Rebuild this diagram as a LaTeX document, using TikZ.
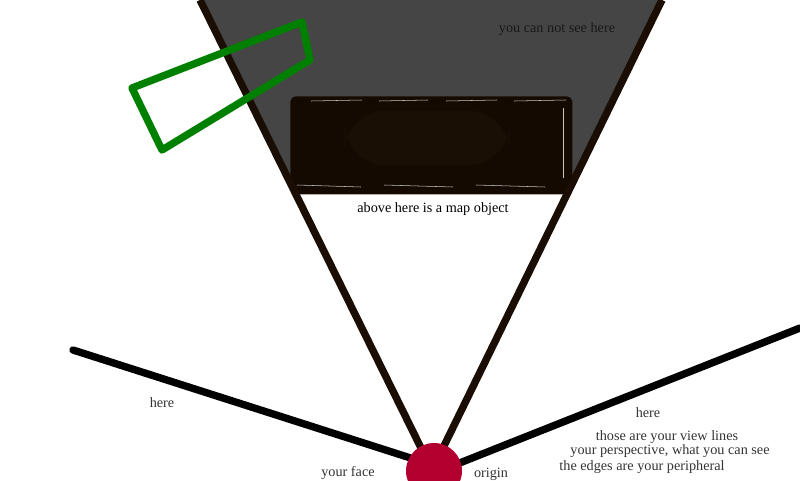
\documentclass[tikz,border=0pt]{standalone}
\usepackage{fontspec}
\setmainfont{Liberation Serif}
\definecolor{viewbrown}{HTML}{1A0D03}
\definecolor{mapdark}{HTML}{150A02}
\definecolor{mapblob}{HTML}{190F04}
\definecolor{blindgray}{HTML}{454545}
\definecolor{origred}{HTML}{B10030}
\definecolor{boxgreen}{HTML}{008000}
\definecolor{labelgray}{HTML}{333333}
\newcommand\lw{4.2pt}

\begin{document}
\begin{tikzpicture}[x=0.02cm,y=-0.02cm,
		viewline/.style={draw=viewbrown,line width=\lw},
		edgeline/.style={draw=black,line width=\lw,line cap=round},
		mylabel/.style={text=labelgray,inner sep=0pt,font=\fontsize{8.1}{9.4}\selectfont},
		seam/.style={draw=gray!45,line width=.3pt}]
		\useasboundingbox (0,0) rectangle (800,480);
		% the parts of the picture
		\coordinate (vlTop) at (200,0);
		\coordinate (vrTop) at (662,0);
		\coordinate (vlMap) at (291,185);
		\coordinate (vrMap) at (571,185);
		\coordinate (vlEnd) at (425,456);
		\coordinate (vrEnd) at (441,452);
		\coordinate (elEnd) at (73,350);
		\coordinate (erEnd) at (800,328);
		\coordinate (elIn) at (420,461);
		\coordinate (erIn) at (452,466);
		% blind area
		\fill[blindgray] (vlTop) -- (vrTop) -- (vrMap) -- (vlMap) -- cycle;
		% map object
		\node(map)[fill=mapdark,rounded corners=3pt,minimum width=5.64cm,minimum height=1.96cm,
			inner sep=0pt,anchor=north west] at (290,96) {};
		\node(blob)[fill=mapblob,rounded corners=24pt,minimum width=3.3cm,minimum height=1.1cm,
			inner sep=0pt] at (427,138) {};
		\foreach \xa/\xb in {311/362,379/428,446/497,514/566}
			\draw[seam] (\xa,101) -- (\xb,100);
		\foreach \xa/\xb in {297/361,384/453,476/545}
			\draw[seam] (\xa,185) -- (\xb,187);
		\draw[seam] (563,108) -- (563,178);
		% view lines and edges
		\draw[viewline] (vlTop) -- (vlEnd);
		\draw[viewline] (vrTop) -- (vrEnd);
		\draw[edgeline] (elEnd) -- (elIn);
		\draw[edgeline] (erEnd) -- (erIn);
		% green box
		\draw[boxgreen,line width=\lw,line join=round] (132,88) -- (302,22) -- (310,60) -- (162,150) -- cycle;
		% origin
		\node(orig)[circle,fill=origred,minimum size=1.12cm,inner sep=0pt] at (434,471) {};
		% texts
		\node(blind)[mylabel,text=black!90] at (557,29) {you can not see here};
		\node(mapText)[mylabel,text=black] at (433,209) {above here is a map object};
		\node(hereL)[mylabel] at (162,403) {here};
		\node(hereR)[mylabel] at (648,413) {here};
		\node(views)[mylabel] at (667,437) {those are your view lines};
		\node(persp)[mylabel] at (670,451) {your perspective, what you can see};
		\node(periph)[mylabel] at (642,467) {the edges are your peripheral};
		\node(face)[mylabel] at (348,473) {your face};
		\node(origText)[mylabel] at (491,474) {origin};
	\end{tikzpicture}
\end{document}
